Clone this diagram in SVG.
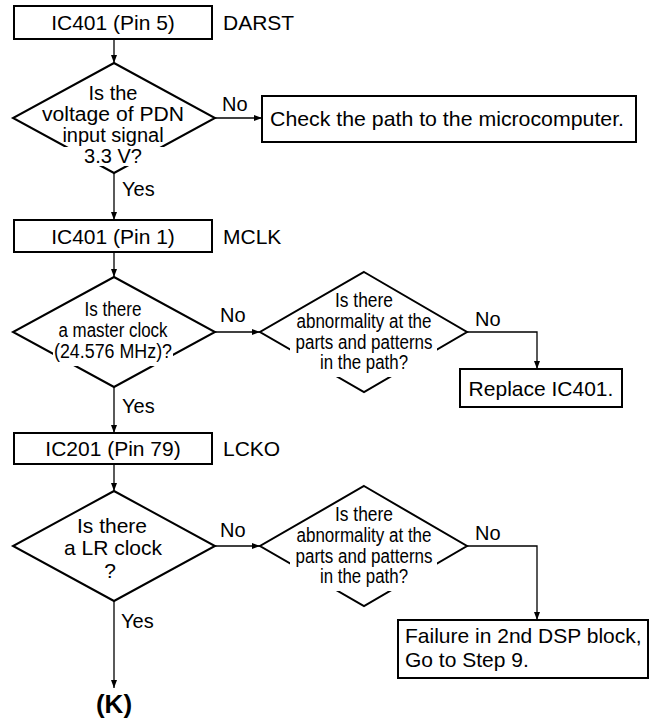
<svg xmlns="http://www.w3.org/2000/svg" width="655" height="719" viewBox="0 0 655 719">
<style>
.bg{fill:#fff}
.box{fill:#fff;stroke:#000;stroke-width:2}
.dia{fill:none;stroke:#000;stroke-width:2;stroke-linejoin:miter}
.conn{fill:none;stroke:#000;stroke-width:1.3}
text{font-family:"Liberation Sans",Arial,sans-serif;fill:#000}
.t{font-size:21px}
.d{font-size:20px;text-anchor:middle}
.m{text-anchor:middle}
.c{font-size:20px;text-anchor:middle}
.lb{font-size:20px}
.k{font-size:26px;font-weight:bold;text-anchor:middle}
.gap{fill:#fff;stroke:none}
</style>
<defs>
<marker id="ah" markerUnits="userSpaceOnUse" markerWidth="8" markerHeight="6" refX="8" refY="3" orient="auto">
<path d="M0,0 L8,3 L0,6 z" fill="#000"/>
</marker>
</defs>
<rect class="bg" x="0" y="0" width="655" height="719"/>

<g id="connectors">
<path class="conn" d="M114,39 V63" marker-end="url(#ah)"/>
<path class="conn" d="M215,118 H262" marker-end="url(#ah)"/>
<path class="conn" d="M114,173 V220" marker-end="url(#ah)"/>
<path class="conn" d="M114,252 V277" marker-end="url(#ah)"/>
<path class="conn" d="M215,332 H260" marker-end="url(#ah)"/>
<path class="conn" d="M467,332 H537 V369" marker-end="url(#ah)"/>
<path class="conn" d="M114,387 V433" marker-end="url(#ah)"/>
<path class="conn" d="M114,464 V491" marker-end="url(#ah)"/>
<path class="conn" d="M215,546 H260" marker-end="url(#ah)"/>
<path class="conn" d="M467,546 H537 V620" marker-end="url(#ah)"/>
<path class="conn" d="M114,601 V688" marker-end="url(#ah)"/>
<text class="lb" x="222" y="111">No</text>
<text class="lb" x="122" y="196">Yes</text>
<text class="lb" x="220" y="322">No</text>
<text class="lb" x="475" y="326">No</text>
<text class="lb" x="122" y="413">Yes</text>
<text class="lb" x="220" y="537">No</text>
<text class="lb" x="475" y="540">No</text>
<text class="lb" x="121" y="628">Yes</text>
</g>

<g id="box1">
<rect class="box" x="14" y="6" width="198" height="33"/>
<text class="t m" x="113" y="30">IC401 (Pin 5)</text>
<text class="t" x="223" y="30">DARST</text>
</g>

<g id="dec1">
<polygon class="dia" points="114,63 215,118 114,173 13,118"/>
<rect class="gap" x="60" y="147" width="106" height="19"/>
<text class="d" x="113" y="100">Is the</text>
<text class="d" x="113" y="121" textLength="142" lengthAdjust="spacingAndGlyphs">voltage of PDN</text>
<text class="d" x="113" y="142">input signal</text>
<text class="d" x="113" y="163">3.3 V?</text>
</g>

<g id="check">
<rect class="box" x="262" y="96" width="374" height="46"/>
<text class="t m" x="447" y="126" textLength="354" lengthAdjust="spacingAndGlyphs">Check the path to the microcomputer.</text>
</g>

<g id="box2">
<rect class="box" x="14" y="220" width="198" height="32"/>
<text class="t m" x="113" y="243.5">IC401 (Pin 1)</text>
<text class="t" x="223" y="244">MCLK</text>
</g>

<g id="dec2">
<polygon class="dia" points="114,277 215,332 114,387 13,332"/>
<rect class="gap" x="53" y="352" width="120" height="14"/>
<text class="c" x="113" y="316" textLength="57" lengthAdjust="spacingAndGlyphs">Is there</text>
<text class="c" x="113" y="337" textLength="109" lengthAdjust="spacingAndGlyphs">a master clock</text>
<text class="c" x="113" y="358" textLength="118" lengthAdjust="spacingAndGlyphs">(24.576 MHz)?</text>
</g>

<g id="dec2b">
<polygon class="dia" points="364,272 467,332 364,392 260,332"/>
<polygon class="gap" points="290,347 437,347 437,363 424,363 424,377 306,377 306,363 290,363"/>
<text class="c" x="364" y="307" textLength="58" lengthAdjust="spacingAndGlyphs">Is there</text>
<text class="c" x="364" y="328" textLength="135" lengthAdjust="spacingAndGlyphs">abnormality at the</text>
<text class="c" x="364" y="349" textLength="137" lengthAdjust="spacingAndGlyphs">parts and patterns</text>
<text class="c" x="364" y="369" textLength="88" lengthAdjust="spacingAndGlyphs">in the path?</text>
</g>

<g id="replace">
<rect class="box" x="460" y="369" width="162" height="38"/>
<text class="t m" x="541" y="396">Replace IC401.</text>
</g>

<g id="box3">
<rect class="box" x="14" y="433" width="198" height="31"/>
<text class="t m" x="113" y="456">IC201 (Pin 79)</text>
<text class="t" x="223" y="456">LCKO</text>
</g>

<g id="dec3">
<polygon class="dia" points="114,491 215,546 114,601 13,546"/>
<text class="t m" x="112" y="533">Is there</text>
<text class="t m" x="113" y="555">a LR clock</text>
<text class="t m" x="110" y="578">?</text>
</g>

<g id="dec3b">
<polygon class="dia" points="364,486 467,546 364,606 260,546"/>
<polygon class="gap" points="290,561 437,561 437,577 424,577 424,591 306,591 306,577 290,577"/>
<text class="c" x="364" y="521" textLength="58" lengthAdjust="spacingAndGlyphs">Is there</text>
<text class="c" x="364" y="542" textLength="135" lengthAdjust="spacingAndGlyphs">abnormality at the</text>
<text class="c" x="364" y="563" textLength="137" lengthAdjust="spacingAndGlyphs">parts and patterns</text>
<text class="c" x="364" y="583" textLength="88" lengthAdjust="spacingAndGlyphs">in the path?</text>
</g>

<g id="failure">
<rect class="box" x="398" y="620" width="250" height="58"/>
<text class="t" x="405" y="643">Failure in 2nd DSP block,</text>
<text class="t" x="405" y="667">Go to Step 9.</text>
</g>

<g id="connK">
<text class="k" x="114" y="713">(K)</text>
</g>
</svg>
